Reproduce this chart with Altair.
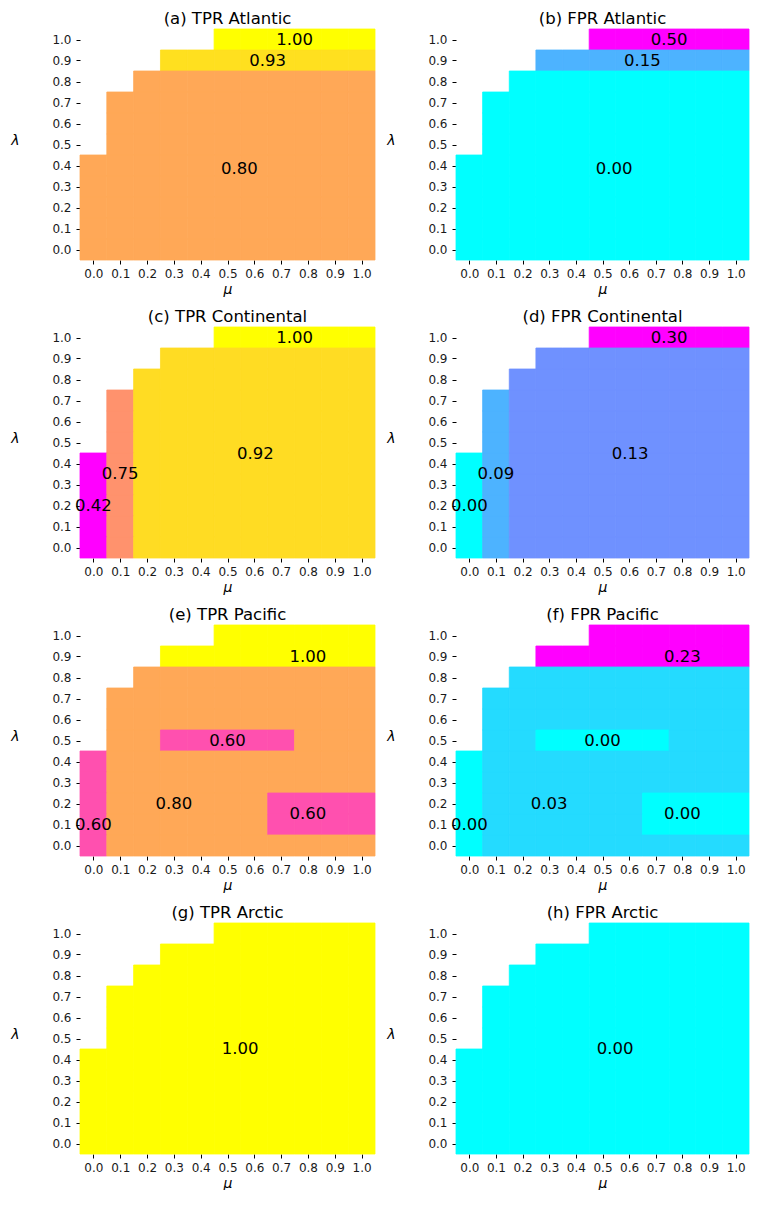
import altair as alt
import pandas as pd

N = None
mu_vals = [0.0, 0.1, 0.2, 0.3, 0.4, 0.5, 0.6, 0.7, 0.8, 0.9, 1.0]
lam_rows = [1.0, 0.9, 0.8, 0.7, 0.6, 0.5, 0.4, 0.3, 0.2, 0.1, 0.0]  # top to bottom

# ---- (a) TPR Atlantic
tpr_atlantic = [
    [N, N, N, N, N, 1.0, 1.0, 1.0, 1.0, 1.0, 1.0],
    [N, N, N, .93, .93, .93, .93, .93, .93, .93, .93],
    [N, N, .80, .80, .80, .80, .80, .80, .80, .80, .80],
    [N, .80, .80, .80, .80, .80, .80, .80, .80, .80, .80],
    [N, .80, .80, .80, .80, .80, .80, .80, .80, .80, .80],
    [N, .80, .80, .80, .80, .80, .80, .80, .80, .80, .80],
    [.80, .80, .80, .80, .80, .80, .80, .80, .80, .80, .80],
    [.80, .80, .80, .80, .80, .80, .80, .80, .80, .80, .80],
    [.80, .80, .80, .80, .80, .80, .80, .80, .80, .80, .80],
    [.80, .80, .80, .80, .80, .80, .80, .80, .80, .80, .80],
    [.80, .80, .80, .80, .80, .80, .80, .80, .80, .80, .80],
]
# ---- (b) FPR Atlantic
fpr_atlantic = [
    [N, N, N, N, N, .50, .50, .50, .50, .50, .50],
    [N, N, N, .15, .15, .15, .15, .15, .15, .15, .15],
    [N, N, 0, 0, 0, 0, 0, 0, 0, 0, 0],
    [N, 0, 0, 0, 0, 0, 0, 0, 0, 0, 0],
    [N, 0, 0, 0, 0, 0, 0, 0, 0, 0, 0],
    [N, 0, 0, 0, 0, 0, 0, 0, 0, 0, 0],
    [0, 0, 0, 0, 0, 0, 0, 0, 0, 0, 0],
    [0, 0, 0, 0, 0, 0, 0, 0, 0, 0, 0],
    [0, 0, 0, 0, 0, 0, 0, 0, 0, 0, 0],
    [0, 0, 0, 0, 0, 0, 0, 0, 0, 0, 0],
    [0, 0, 0, 0, 0, 0, 0, 0, 0, 0, 0],
]
# ---- (c) TPR Continental
tpr_continental = [
    [N, N, N, N, N, 1.0, 1.0, 1.0, 1.0, 1.0, 1.0],
    [N, N, N, .92, .92, .92, .92, .92, .92, .92, .92],
    [N, N, .92, .92, .92, .92, .92, .92, .92, .92, .92],
    [N, .75, .92, .92, .92, .92, .92, .92, .92, .92, .92],
    [N, .75, .92, .92, .92, .92, .92, .92, .92, .92, .92],
    [N, .75, .92, .92, .92, .92, .92, .92, .92, .92, .92],
    [.4167, .75, .92, .92, .92, .92, .92, .92, .92, .92, .92],
    [.4167, .75, .92, .92, .92, .92, .92, .92, .92, .92, .92],
    [.4167, .75, .92, .92, .92, .92, .92, .92, .92, .92, .92],
    [.4167, .75, .92, .92, .92, .92, .92, .92, .92, .92, .92],
    [.4167, .75, .92, .92, .92, .92, .92, .92, .92, .92, .92],
]
# ---- (d) FPR Continental
fpr_continental = [
    [N, N, N, N, N, .30, .30, .30, .30, .30, .30],
    [N, N, N, .13, .13, .13, .13, .13, .13, .13, .13],
    [N, N, .13, .13, .13, .13, .13, .13, .13, .13, .13],
    [N, .09, .13, .13, .13, .13, .13, .13, .13, .13, .13],
    [N, .09, .13, .13, .13, .13, .13, .13, .13, .13, .13],
    [N, .09, .13, .13, .13, .13, .13, .13, .13, .13, .13],
    [0, .09, .13, .13, .13, .13, .13, .13, .13, .13, .13],
    [0, .09, .13, .13, .13, .13, .13, .13, .13, .13, .13],
    [0, .09, .13, .13, .13, .13, .13, .13, .13, .13, .13],
    [0, .09, .13, .13, .13, .13, .13, .13, .13, .13, .13],
    [0, .09, .13, .13, .13, .13, .13, .13, .13, .13, .13],
]
# ---- (e) TPR Pacific
tpr_pacific = [
    [N, N, N, N, N, 1.0, 1.0, 1.0, 1.0, 1.0, 1.0],
    [N, N, N, 1.0, 1.0, 1.0, 1.0, 1.0, 1.0, 1.0, 1.0],
    [N, N, .80, .80, .80, .80, .80, .80, .80, .80, .80],
    [N, .80, .80, .80, .80, .80, .80, .80, .80, .80, .80],
    [N, .80, .80, .80, .80, .80, .80, .80, .80, .80, .80],
    [N, .80, .80, .60, .60, .60, .60, .60, .80, .80, .80],
    [.60, .80, .80, .80, .80, .80, .80, .80, .80, .80, .80],
    [.60, .80, .80, .80, .80, .80, .80, .80, .80, .80, .80],
    [.60, .80, .80, .80, .80, .80, .80, .60, .60, .60, .60],
    [.60, .80, .80, .80, .80, .80, .80, .60, .60, .60, .60],
    [.60, .80, .80, .80, .80, .80, .80, .80, .80, .80, .80],
]
# ---- (f) FPR Pacific
fpr_pacific = [
    [N, N, N, N, N, .233, .233, .233, .233, .233, .233],
    [N, N, N, .233, .233, .233, .233, .233, .233, .233, .233],
    [N, N, .033, .033, .033, .033, .033, .033, .033, .033, .033],
    [N, .033, .033, .033, .033, .033, .033, .033, .033, .033, .033],
    [N, .033, .033, .033, .033, .033, .033, .033, .033, .033, .033],
    [N, .033, .033, 0, 0, 0, 0, 0, .033, .033, .033],
    [0, .033, .033, .033, .033, .033, .033, .033, .033, .033, .033],
    [0, .033, .033, .033, .033, .033, .033, .033, .033, .033, .033],
    [0, .033, .033, .033, .033, .033, .033, 0, 0, 0, 0],
    [0, .033, .033, .033, .033, .033, .033, 0, 0, 0, 0],
    [0, .033, .033, .033, .033, .033, .033, .033, .033, .033, .033],
]
# ---- (g) TPR Arctic
tpr_arctic = [
    [N, N, N, N, N, 1.0, 1.0, 1.0, 1.0, 1.0, 1.0],
    [N, N, N, 1.0, 1.0, 1.0, 1.0, 1.0, 1.0, 1.0, 1.0],
    [N, N, 1.0, 1.0, 1.0, 1.0, 1.0, 1.0, 1.0, 1.0, 1.0],
    [N, 1.0, 1.0, 1.0, 1.0, 1.0, 1.0, 1.0, 1.0, 1.0, 1.0],
    [N, 1.0, 1.0, 1.0, 1.0, 1.0, 1.0, 1.0, 1.0, 1.0, 1.0],
    [N, 1.0, 1.0, 1.0, 1.0, 1.0, 1.0, 1.0, 1.0, 1.0, 1.0],
    [1.0, 1.0, 1.0, 1.0, 1.0, 1.0, 1.0, 1.0, 1.0, 1.0, 1.0],
    [1.0, 1.0, 1.0, 1.0, 1.0, 1.0, 1.0, 1.0, 1.0, 1.0, 1.0],
    [1.0, 1.0, 1.0, 1.0, 1.0, 1.0, 1.0, 1.0, 1.0, 1.0, 1.0],
    [1.0, 1.0, 1.0, 1.0, 1.0, 1.0, 1.0, 1.0, 1.0, 1.0, 1.0],
    [1.0, 1.0, 1.0, 1.0, 1.0, 1.0, 1.0, 1.0, 1.0, 1.0, 1.0],
]
# ---- (h) FPR Arctic
fpr_arctic = [
    [N, N, N, N, N, 0, 0, 0, 0, 0, 0],
    [N, N, N, 0, 0, 0, 0, 0, 0, 0, 0],
    [N, N, 0, 0, 0, 0, 0, 0, 0, 0, 0],
    [N, 0, 0, 0, 0, 0, 0, 0, 0, 0, 0],
    [N, 0, 0, 0, 0, 0, 0, 0, 0, 0, 0],
    [N, 0, 0, 0, 0, 0, 0, 0, 0, 0, 0],
    [0, 0, 0, 0, 0, 0, 0, 0, 0, 0, 0],
    [0, 0, 0, 0, 0, 0, 0, 0, 0, 0, 0],
    [0, 0, 0, 0, 0, 0, 0, 0, 0, 0, 0],
    [0, 0, 0, 0, 0, 0, 0, 0, 0, 0, 0],
    [0, 0, 0, 0, 0, 0, 0, 0, 0, 0, 0],
]

# annotation anchors (mu, lambda) and shown values, per panel
ann_atl_mu = [0.75, 0.65, 0.544]
ann_atl_lam = [1.0, 0.9, 0.385]
ann_tpr_atl = ["1.00", "0.93", "0.80"]
ann_fpr_atl = ["0.50", "0.15", "0.00"]

ann_con_mu = [0.75, 0.604, 0.1, 0.0]
ann_con_lam = [1.0, 0.445, 0.35, 0.2]
ann_tpr_con = ["1.00", "0.92", "0.75", "0.42"]
ann_fpr_con = ["0.30", "0.13", "0.09", "0.00"]

ann_pac_mu = [0.8, 0.3, 0.5, 0.8, 0.0]
ann_pac_lam = [0.9, 0.2, 0.5, 0.15, 0.1]
ann_tpr_pac = ["1.00", "0.80", "0.60", "0.60", "0.60"]
ann_fpr_pac = ["0.23", "0.03", "0.00", "0.00", "0.00"]

ann_arc_mu = [0.547]
ann_arc_lam = [0.448]
ann_tpr_arc = ["1.00"]
ann_fpr_arc = ["0.00"]

tick_vals = [0.0, 0.1, 0.2, 0.3, 0.4, 0.5, 0.6, 0.7, 0.8, 0.9, 1.0]

SPRING = ["#ff00ff", "#ffff00"]
COOL = ["#00ffff", "#ff00ff"]
FONT = "DejaVu Sans"
H = 231


def make_axes():
    common = dict(values=tick_vals, format=".1f", grid=False, domain=False,
                  tickSize=4, tickColor="#000", labelOverlap=False, labelFlush=False,
                  labelFontSize=12, labelFont=FONT, labelColor="#1a1a1a",
                  titleFont=FONT, titleFontSize=14, titleFontWeight="normal",
                  titleColor="#000", titleFontStyle="italic")
    xaxis = alt.Axis(title="μ", labelPadding=4, titlePadding=3, **common)
    yaxis = alt.Axis(title="λ", labelPadding=5, titleAngle=0, titleX=-65, titleY=111,
                     titleAlign="center", titleBaseline="middle", **common)
    return xaxis, yaxis


def panel(title, grid, a_mu, a_lam, a_txt, domain, rng, width):
    rows = []
    for i, lam in enumerate(lam_rows):
        for j, mu in enumerate(mu_vals):
            v = grid[i][j]
            if v is not None:
                rows.append({"mu": mu, "lam": lam, "v": v})
    cells = pd.DataFrame(rows)
    labels = pd.DataFrame({"mu": a_mu, "lam": a_lam, "txt": a_txt})
    xs = alt.Scale(domain=[-0.05, 1.05], nice=False, zero=False)
    ys = alt.Scale(domain=[-0.05, 1.05], nice=False, zero=False)
    cscale = alt.Scale(domain=domain, range=rng, interpolate="rgb")
    xaxis, yaxis = make_axes()
    rect = alt.Chart(cells).transform_calculate(
        x0="datum.mu - 0.05", x1="datum.mu + 0.05",
        y0="datum.lam - 0.05", y1="datum.lam + 0.05",
    ).mark_rect(strokeWidth=0.8, opacity=1, strokeOpacity=1).encode(
        x=alt.X("x0:Q", scale=xs, axis=xaxis),
        x2="x1:Q",
        y=alt.Y("y0:Q", scale=ys, axis=yaxis),
        y2="y1:Q",
        color=alt.Color("v:Q", scale=cscale, legend=None),
        stroke=alt.Stroke("v:Q", scale=cscale, legend=None),
    )
    text = alt.Chart(labels).mark_text(fontSize=16.5, font=FONT, color="#000",
                                       baseline="middle", align="center").encode(
        x=alt.X("mu:Q", scale=xs, axis=xaxis),
        y=alt.Y("lam:Q", scale=ys, axis=yaxis),
        text="txt:N",
    )
    return alt.layer(rect, text).properties(
        width=width, height=H,
        title=alt.TitleParams(title, fontSize=16.5, font=FONT, fontWeight="normal",
                              offset=1, color="#000"),
    )


WL, WR = 295, 293
pa = panel("(a) TPR Atlantic", tpr_atlantic, ann_atl_mu, ann_atl_lam, ann_tpr_atl, [0.4167, 1.0], SPRING, WL)
pb = panel("(b) FPR Atlantic", fpr_atlantic, ann_atl_mu, ann_atl_lam, ann_fpr_atl, [0.0, 0.50], COOL, WR)
pc = panel("(c) TPR Continental", tpr_continental, ann_con_mu, ann_con_lam, ann_tpr_con, [0.4167, 1.0], SPRING, WL)
pd_ = panel("(d) FPR Continental", fpr_continental, ann_con_mu, ann_con_lam, ann_fpr_con, [0.0, 0.30], COOL, WR)
pe = panel("(e) TPR Pacific", tpr_pacific, ann_pac_mu, ann_pac_lam, ann_tpr_pac, [0.4167, 1.0], SPRING, WL)
pf = panel("(f) FPR Pacific", fpr_pacific, ann_pac_mu, ann_pac_lam, ann_fpr_pac, [0.0, 0.233], COOL, WR)
pg = panel("(g) TPR Arctic", tpr_arctic, ann_arc_mu, ann_arc_lam, ann_tpr_arc, [0.4167, 1.0], SPRING, WL)
ph = panel("(h) FPR Arctic", fpr_arctic, ann_arc_mu, ann_arc_lam, ann_fpr_arc, [0.0, 1.0], COOL, WR)

rows = [
    alt.hconcat(pa, pb, spacing=10).resolve_scale(color="independent", stroke="independent"),
    alt.hconcat(pc, pd_, spacing=10).resolve_scale(color="independent", stroke="independent"),
    alt.hconcat(pe, pf, spacing=10).resolve_scale(color="independent", stroke="independent"),
    alt.hconcat(pg, ph, spacing=10).resolve_scale(color="independent", stroke="independent"),
]
chart = alt.vconcat(*rows, spacing=13).resolve_scale(
    color="independent", stroke="independent"
).configure(
    font=FONT, padding={"left": 2, "top": 3, "right": 0, "bottom": 0}
).configure_view(stroke=None)

chart.save("out.html", embed_options={"renderer": "svg", "actions": False})
